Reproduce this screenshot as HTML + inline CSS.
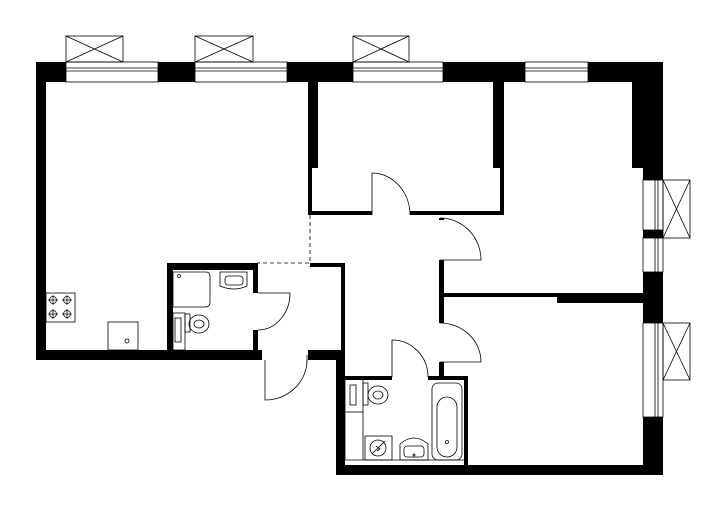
<!DOCTYPE html>
<html><head><meta charset="utf-8"><style>html,body{margin:0;padding:0;background:#fff}svg{display:block}</style></head>
<body>
<svg width="726" height="512" viewBox="0 0 726 512" xmlns="http://www.w3.org/2000/svg">
<g fill="#000" stroke="none">
<!-- top wall pieces -->
<rect x="36" y="62" width="30" height="20"/>
<rect x="158" y="62" width="37" height="20"/>
<rect x="287" y="62" width="66" height="20"/>
<rect x="443" y="62" width="82" height="20"/>
<rect x="588" y="62" width="75" height="20"/>
<!-- left wall -->
<rect x="36" y="62" width="10" height="298"/>
<!-- bottom left wall -->
<rect x="36" y="350" width="226" height="10"/>
<rect x="308" y="350" width="37" height="10"/>
<!-- right wall -->
<rect x="632" y="62" width="31" height="106"/>
<rect x="643" y="62" width="20" height="118"/>
<rect x="643" y="230" width="20" height="8"/>
<rect x="643" y="272" width="20" height="51"/>
<rect x="643" y="417" width="20" height="58"/>
<!-- bottom wall -->
<rect x="336" y="465" width="327" height="10"/>
<rect x="336" y="350" width="9" height="125"/>
<!-- partition living / bedroom -->
<rect x="308" y="82" width="10" height="86"/>
<rect x="308" y="82" width="4" height="133"/>
<rect x="308" y="211" width="64" height="4"/>
<rect x="410" y="211" width="94" height="4"/>
<rect x="493" y="82" width="11" height="86"/>
<rect x="500" y="82" width="4" height="133"/>
<!-- right bedrooms left wall -->
<rect x="439" y="218" width="5" height="2"/>
<rect x="439" y="260" width="5" height="63"/>
<rect x="439" y="362" width="5" height="16"/>
<rect x="440" y="293" width="203" height="4"/>
<rect x="557" y="293" width="86" height="10"/>
<!-- corridor -->
<rect x="310" y="263" width="35" height="4"/>
<rect x="341" y="263" width="4" height="97"/>
<!-- WC -->
<rect x="167" y="263" width="6" height="97"/>
<rect x="167" y="263" width="91" height="7"/>
<rect x="253" y="263" width="5" height="30"/>
<rect x="253" y="330" width="5" height="30"/>
<!-- bathroom -->
<rect x="336" y="376" width="56" height="4"/>
<rect x="428" y="376" width="40" height="4"/>
<rect x="464" y="376" width="4" height="99"/>
</g>
<g fill="none" stroke="#000" stroke-width="0.8">
<!-- top windows -->
<rect x="66" y="62" width="92" height="20"/><line x1="66" y1="68" x2="158" y2="68"/><line x1="66" y1="71" x2="158" y2="71"/>
<rect x="195" y="62" width="92" height="20"/><line x1="195" y1="68" x2="287" y2="68"/><line x1="195" y1="71" x2="287" y2="71"/>
<rect x="353" y="62" width="90" height="20"/><line x1="353" y1="68" x2="443" y2="68"/><line x1="353" y1="71" x2="443" y2="71"/>
<rect x="525" y="62" width="63" height="20"/><line x1="525" y1="68" x2="588" y2="68"/><line x1="525" y1="71" x2="588" y2="71"/>
<!-- balconies -->
<rect x="66" y="36" width="57" height="26"/><path d="M66 36L123 62M123 36L66 62"/>
<rect x="195" y="36" width="58" height="26"/><path d="M195 36L253 62M253 36L195 62"/>
<rect x="353" y="36" width="56" height="26"/><path d="M353 36L409 62M409 36L353 62"/>
<!-- right windows -->
<rect x="643" y="180" width="20" height="50"/><line x1="655" y1="180" x2="655" y2="230"/><line x1="658" y1="180" x2="658" y2="230"/>
<rect x="643" y="238" width="20" height="34"/><line x1="655" y1="238" x2="655" y2="272"/><line x1="658" y1="238" x2="658" y2="272"/>
<rect x="643" y="323" width="20" height="94"/><line x1="655" y1="323" x2="655" y2="417"/><line x1="658" y1="323" x2="658" y2="417"/>
<rect x="663" y="180" width="27" height="58"/><path d="M663 180L690 238M690 180L663 238"/>
<rect x="663" y="323" width="27" height="57"/><path d="M663 323L690 380M690 323L663 380"/>
<!-- doors -->
<path d="M372 215V173A38 42 0 0 1 410 215"/>
<path d="M440 260H481A41 42 0 0 0 440 218"/>
<path d="M440 362H481A41 39 0 0 0 440 323"/>
<path d="M392 377V340A36 37 0 0 1 428 377"/>
<path d="M258 293H290A32 37 0 0 1 258 330"/>
<path d="M265 360V400A42 40 0 0 0 307 360"/>
<line x1="307" y1="355" x2="307" y2="362"/>
<path d="M310 215V263H257" stroke-dasharray="4 3"/>
<!-- kitchen -->
<rect x="46" y="293" width="29" height="29"/>
<g stroke-width="0.7">
<circle cx="53" cy="300" r="3.5"/><circle cx="67" cy="300" r="3.5"/><circle cx="53" cy="314" r="3.5"/><circle cx="67" cy="314" r="3.5"/>
<path d="M48 300h10M53 295v10M62 300h10M67 295v10M48 314h10M53 309v10M62 314h10M67 309v10"/>
</g>
<rect x="108" y="322" width="30" height="28"/><circle cx="127" cy="341" r="2"/>
<!-- WC fixtures -->
<path d="M173 272H206Q210 272 210 276V302Q210 307 205 307H173Z"/><circle cx="179" cy="276" r="1.5"/>
<path d="M220 272H247V286Q234 292 220 286Z"/><rect x="225" y="276" width="18" height="9" rx="3"/>
<rect x="173" y="313" width="12" height="37"/><rect x="175" y="318" width="6" height="24"/>
<rect x="185" y="314" width="5" height="18"/><ellipse cx="199" cy="324" rx="10" ry="9"/><ellipse cx="199" cy="324" rx="5" ry="4"/>
<!-- bathroom fixtures -->
<rect x="432" y="383" width="30" height="77" rx="6"/><rect x="437" y="397" width="20" height="60" rx="10"/><circle cx="447" cy="442" r="1.5"/>
<rect x="345" y="378" width="18" height="34"/><rect x="350" y="385" width="6" height="20"/>
<rect x="363" y="383" width="5" height="22"/><ellipse cx="378" cy="395" rx="10" ry="9"/><ellipse cx="378" cy="395" rx="5" ry="4"/>
<line x1="345" y1="412" x2="345" y2="460"/><line x1="363" y1="412" x2="363" y2="460"/>
<rect x="365" y="436" width="27" height="24"/><circle cx="378" cy="448" r="8"/><path d="M372 454L385 441M376 446l4 3-3 2"/>
<path d="M400 460V444Q414 432 428 444V460Z"/><rect x="404" y="446" width="20" height="11" rx="3"/><circle cx="414" cy="455" r="1"/>
<line x1="345" y1="460" x2="464" y2="460"/>
</g>
</svg>
</body></html>
